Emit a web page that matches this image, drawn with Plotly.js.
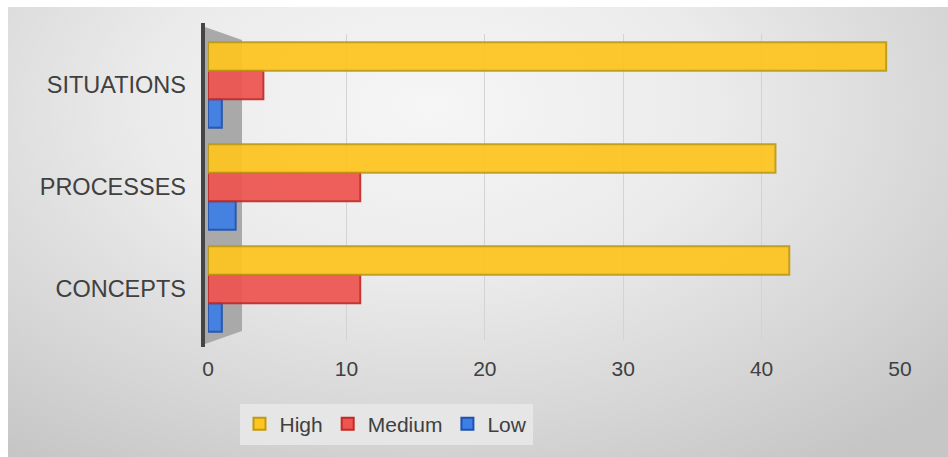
<!DOCTYPE html>
<html>
<head>
<meta charset="utf-8">
<script src="https://cdn.plot.ly/plotly-3.0.1.min.js"></script>
<style>
  html, body { margin: 0; padding: 0; background: #ffffff; }
  #bg { position: absolute; left: 8px; top: 7px; width: 940px; height: 450px;
        background: radial-gradient(ellipse 75% 95% at 45% 22%, #f6f6f6 0%, #ebebeb 40%, #d6d6d6 75%, #c6c6c6 100%); }
  #chart { position: absolute; left: 0; top: 0; width: 948px; height: 457px; }
</style>
</head>
<body>
<div id="bg"></div>
<div id="chart"></div>
<script>
// Data
const categories = ["CONCEPTS", "PROCESSES", "SITUATIONS"];
const highValues = [42, 41, 49];
const mediumValues = [11, 11, 4];
const lowValues = [1, 2, 1];
const xTickValues = [0, 10, 20, 30, 40, 50];

const W = 948, H = 457;
const mL = 208, mR = 48, mT = 34, mB = 117;
const plotW = W - mL - mR, plotH = H - mT - mB;
const px = v => (v - mL) / plotW;
const py = v => (H - mB - v) / plotH;

const font = "Liberation Sans, Arial, sans-serif";

function barTrace(name, vals, fill, edge) {
  return {
    type: "bar", orientation: "h", name: name,
    y: categories, x: vals,
    marker: { color: fill, opacity: 0.93, line: { color: edge, width: 2 } },
    hoverinfo: "x+y+name"
  };
}

const traces = [
  barTrace("Low", lowValues, "#3d7fe6", "#1f52b0"),
  barTrace("Medium", mediumValues, "#ee5550", "#c22a24"),
  barTrace("High", highValues, "#fec51f", "#c09a10")
];

// decorative left wall (3D side wall of the Excel chart)
const wallPath = `M ${px(205)} ${py(27)} L ${px(242)} ${py(40)} L ${px(242)} ${py(331)} L ${px(205)} ${py(344)} Z`;
const shapes = [
  { type: "path", xref: "paper", yref: "paper", path: wallPath,
    fillcolor: "#a9a9a9", line: { width: 0 }, layer: "below" },
  { type: "line", xref: "paper", yref: "paper",
    x0: px(203), x1: px(203), y0: py(23), y1: py(347),
    line: { color: "#454545", width: 4 }, layer: "below" }
];

const layout = {
  width: W, height: H,
  margin: { l: mL, r: mR, t: mT, b: mB, pad: 0 },
  paper_bgcolor: "rgba(0,0,0,0)",
  plot_bgcolor: "rgba(0,0,0,0)",
  barmode: "group",
  bargap: 0.16,
  bargroupgap: 0,
  font: { family: font, color: "#404040", size: 21 },
  xaxis: {
    range: [0, 50], tickvals: xTickValues, ticktext: xTickValues.map(String),
    showgrid: true, gridcolor: "#d3d3d3", gridwidth: 1,
    zeroline: false, showline: false, ticks: "",
    ticklabelstandoff: 14,
    tickfont: { family: font, size: 21, color: "#404040" }
  },
  yaxis: {
    type: "category", categoryorder: "array", categoryarray: categories,
    showgrid: false, zeroline: false, showline: false, ticks: "",
    ticklabelstandoff: 21,
    tickfont: { family: font, size: 23.5, color: "#404040" }
  },
  showlegend: true,
  legend: {
    orientation: "h", traceorder: "reversed",
    x: px(386), xanchor: "center", y: py(424), yanchor: "middle",
    bgcolor: "#e6e6e6", borderwidth: 0,
    font: { family: font, size: 21, color: "#404040" },
    itemwidth: 30
  },
  shapes: shapes
};

Plotly.newPlot("chart", traces, layout, { displayModeBar: false, staticPlot: true });
</script>
</body>
</html>
